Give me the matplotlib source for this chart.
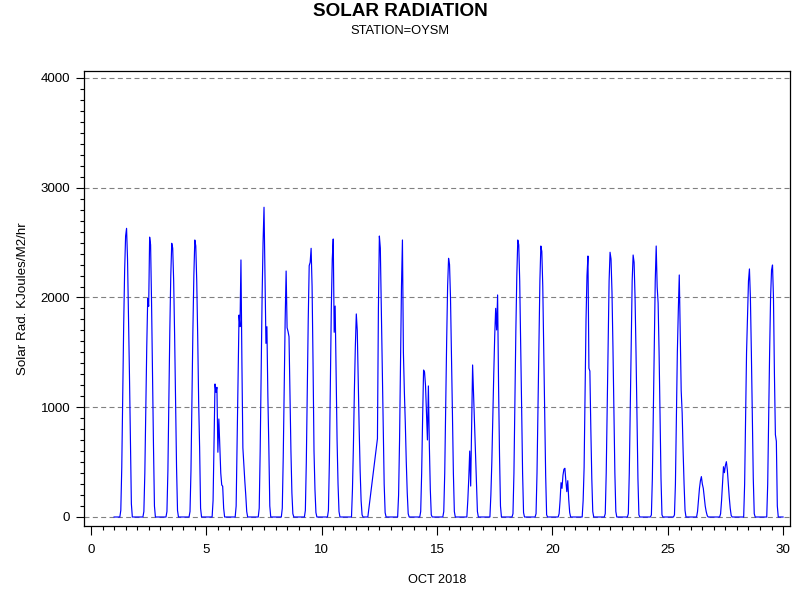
import numpy as np
import matplotlib
matplotlib.use("Agg")
import matplotlib.pyplot as plt
from matplotlib.ticker import MultipleLocator

plt.rcParams['font.family'] = ['Liberation Sans', 'DejaVu Sans']

# Hourly solar radiation, daylight hours 06..19 for each day of Oct 2018
day_hours = [6, 7, 8, 9, 10, 11, 12, 13, 14, 15, 16, 17, 18, 19]
oct01 = [0, 60, 450, 1100, 1750, 2250, 2560, 2630, 2350, 1850, 1300, 700, 120, 0]
oct02 = [0, 50, 400, 1000, 1550, 1990, 1920, 2550, 2480, 1950, 1300, 650, 100, 0]
oct03 = [0, 50, 420, 1050, 1700, 2200, 2494, 2450, 2150, 1650, 1050, 450, 60, 0]
oct04 = [0, 50, 420, 1050, 1700, 2200, 2524, 2470, 2150, 1650, 1050, 630, 80, 0]
oct05 = [0, 150, 700, 1212, 1136, 1182, 590, 893, 650, 400, 292, 280, 80, 0]
oct06 = [0, 100, 700, 1300, 1840, 1734, 2342, 1400, 630, 480, 330, 200, 50, 0]
oct07 = [0, 80, 600, 1300, 2000, 2500, 2822, 2200, 1582, 1734, 1100, 640, 100, 0]
oct08 = [0, 80, 550, 1200, 1800, 2241, 1725, 1690, 1643, 1100, 600, 220, 30, 0]
oct09 = [0, 60, 500, 1150, 1800, 2290, 2320, 2448, 2100, 1400, 600, 250, 40, 0]
oct10 = [0, 60, 500, 1200, 1900, 2350, 2533, 1683, 1922, 1300, 700, 300, 50, 0]
oct11 = [0, 0, 250, 650, 1150, 1550, 1850, 1700, 1250, 800, 420, 150, 20, 0]
oct12 = [0, 0, 0, 0, 714, 1900, 2560, 2450, 1900, 1370, 750, 300, 40, 0]
oct13 = [0, 0, 200, 700, 1400, 2100, 2524, 1500, 1142, 850, 500, 220, 30, 0]
oct14 = [0, 50, 400, 900, 1339, 1320, 1200, 950, 702, 1194, 650, 250, 20, 0]
oct15 = [0, 50, 400, 1000, 1600, 2100, 2357, 2300, 2000, 1500, 950, 400, 50, 0]
oct16 = [0, 0, 150, 350, 601, 282, 830, 1385, 1120, 850, 590, 322, 50, 0]
oct17 = [0, 0, 200, 500, 900, 1300, 1650, 1901, 1704, 2023, 1200, 565, 100, 0]
oct18 = [0, 30, 400, 1050, 1700, 2200, 2524, 2480, 2150, 1600, 1000, 400, 40, 0]
oct19 = [0, 30, 400, 1000, 1650, 2150, 2469, 2420, 2100, 1550, 950, 380, 20, 0]
oct20 = [0, 30, 150, 313, 261, 380, 435, 444, 330, 231, 331, 160, 40, 0]
oct21 = [0, 0, 150, 450, 1100, 1800, 2200, 2378, 1355, 1330, 800, 350, 50, 0]
oct22 = [0, 30, 400, 1000, 1650, 2150, 2412, 2350, 2050, 1550, 950, 400, 50, 0]
oct23 = [0, 30, 400, 1000, 1650, 2150, 2387, 2320, 2000, 1500, 900, 350, 20, 0]
oct24 = [0, 20, 350, 950, 1600, 2150, 2469, 2098, 1950, 1500, 900, 350, 20, 0]
oct25 = [0, 20, 300, 900, 1500, 1880, 2205, 1700, 1150, 950, 600, 300, 60, 0]
oct26 = [0, 50, 150, 260, 330, 368, 300, 261, 180, 100, 50, 15, 0, 0]
oct27 = [0, 30, 150, 300, 458, 404, 470, 504, 430, 307, 180, 80, 15, 0]
oct28 = [0, 0, 300, 900, 1500, 1840, 2150, 2260, 2000, 1500, 900, 350, 30, 0]
oct29 = [0, 0, 300, 900, 1500, 2000, 2250, 2296, 2000, 1300, 750, 690, 100, 0]
profiles = [oct01, oct02, oct03, oct04, oct05, oct06, oct07, oct08, oct09, oct10,
            oct11, oct12, oct13, oct14, oct15, oct16, oct17, oct18, oct19, oct20,
            oct21, oct22, oct23, oct24, oct25, oct26, oct27, oct28, oct29]
# hours with no observation (line joins across them)
missing = {12: [1, 2, 3, 4, 5, 6, 7, 8, 9]}

times, values = [], []
for i, prof in enumerate(profiles):
    day = i + 1
    for hr in range(24):
        if hr in missing.get(day, []):
            continue
        v = prof[day_hours.index(hr)] if hr in day_hours else 0
        times.append(day + hr / 24.0)
        values.append(v)
times.append(30.0)
values.append(0)

fig = plt.figure(figsize=(8, 6), dpi=100)
ax = fig.add_axes([84/800, 1 - 526/600, (790-84)/800, (526-70.5)/600])

for yv in [0, 1000, 2000, 3000, 4000]:
    ax.axhline(yv, color='#808080', lw=0.8, ls=(0, (4.5, 3)), zorder=1)

ax.plot(times, values, color='#0000ff', lw=0.85, zorder=3)

ax.set_xlim(-0.3035, 30.30)
ax.set_ylim(-82, 4068)
ax.xaxis.set_major_locator(MultipleLocator(5))
ax.xaxis.set_minor_locator(MultipleLocator(0.5))
ax.yaxis.set_major_locator(MultipleLocator(1000))
ax.yaxis.set_minor_locator(MultipleLocator(100))
ax.tick_params(axis='x', which='major', length=6.5, width=0.8, pad=6.5, labelsize=9.6)
ax.tick_params(axis='x', which='minor', length=3, width=0.8)
ax.tick_params(axis='y', which='major', length=5.5, width=0.8, pad=4.5, labelsize=9.6)
ax.tick_params(axis='y', which='minor', length=2.8, width=0.8)
for s in ax.spines.values():
    s.set_linewidth(0.9)

ax.set_xlabel('OCT 2018', fontsize=9.2, labelpad=13)
ax.set_ylabel('Solar Rad. KJoules/M2/hr', fontsize=9.6, labelpad=8)

fig.text(0.5, 1 - 11/600, 'SOLAR RADIATION', ha='center', va='center',
         fontsize=13.6, fontweight='bold')
fig.text(0.5, 1 - 31/600, 'STATION=OYSM', ha='center', va='center', fontsize=9.3)

fig.savefig('out.png', dpi=100)
